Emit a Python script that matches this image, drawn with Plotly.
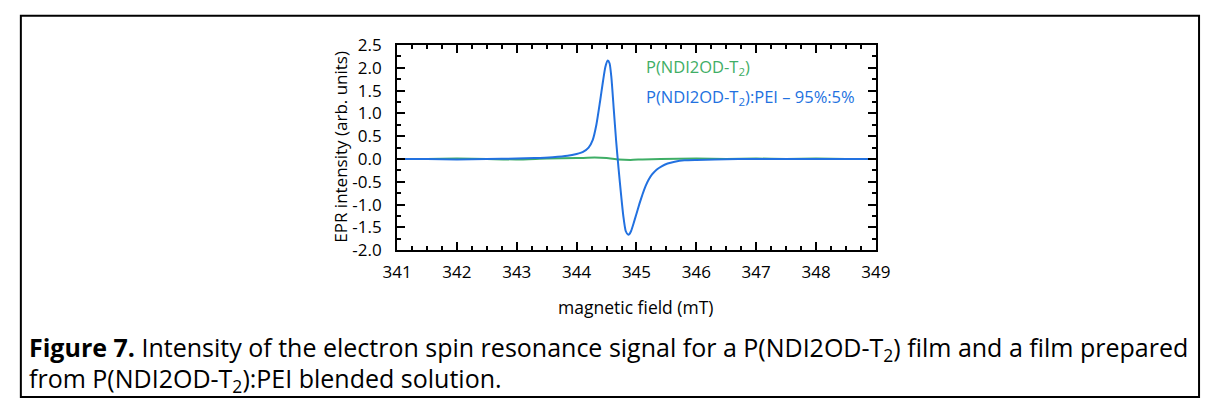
import plotly.graph_objects as go

# ---- data ----
field_blend = [341.0, 341.5, 342.0, 342.5, 343.0, 343.3, 343.6, 343.85, 344.0, 344.1,
               344.2, 344.27, 344.33, 344.39, 344.44, 344.48, 344.52, 344.55, 344.58, 344.62,
               344.66, 344.70, 344.74, 344.78, 344.82, 344.86, 344.88, 344.91, 344.95, 345.0,
               345.05, 345.1, 345.15, 345.2, 345.26, 345.34, 345.42, 345.52, 345.64, 345.8,
               346.0, 346.3, 346.7, 347.0, 347.5, 348.0, 348.5, 349.0]
intensity_blend = [0.0, 0.0, -0.01, 0.0, 0.01, 0.02, 0.04, 0.07, 0.11, 0.15,
                   0.25, 0.42, 0.75, 1.25, 1.70, 2.02, 2.16, 2.10, 1.80, 1.10,
                   0.40, -0.20, -0.75, -1.25, -1.58, -1.66, -1.65, -1.58, -1.42, -1.20,
                   -0.98, -0.78, -0.60, -0.46, -0.34, -0.23, -0.16, -0.10, -0.06, -0.03,
                   -0.02, -0.01, 0.0, 0.0, 0.0, 0.0, 0.0, 0.0]

field_pristine = [341.0, 341.5, 342.0, 342.5, 343.0, 343.5, 344.0, 344.3, 344.5, 344.7,
                  344.9, 345.1, 345.4, 346.0, 346.5, 347.0, 347.5, 348.0, 348.5, 349.0]
intensity_pristine = [0.0, 0.0, 0.01, 0.0, -0.01, 0.01, 0.02, 0.03, 0.02, -0.01,
                      -0.02, -0.01, 0.0, 0.01, 0.0, 0.01, 0.0, 0.01, 0.0, 0.0]

x_ticks = [341, 342, 343, 344, 345, 346, 347, 348, 349]
y_ticks = [-2.0, -1.5, -1.0, -0.5, 0.0, 0.5, 1.0, 1.5, 2.0, 2.5]

GREEN = "#3fae66"
BLUE = "#2271e0"
FONT = "Open Sans"

W, H = 1216, 410
px = lambda x: x / W
py = lambda y: 1 - y / H

fig = go.Figure()
fig.add_trace(go.Scatter(x=field_pristine, y=intensity_pristine, mode="lines",
                         line=dict(color=GREEN, width=2, shape="spline", smoothing=0.6),
                         showlegend=False))
fig.add_trace(go.Scatter(x=field_blend, y=intensity_blend, mode="lines",
                         line=dict(color=BLUE, width=2, shape="spline", smoothing=0.6),
                         showlegend=False))

axis_common = dict(showline=True, linecolor="black", linewidth=2, mirror="ticks",
                   ticks="inside", ticklen=8, tickwidth=2, tickcolor="black",
                   showgrid=False, zeroline=False,
                   tickfont=dict(family=FONT, size=17, color="black"))

fig.update_xaxes(range=[341, 349], tickvals=x_ticks, ticktext=[str(v) for v in x_ticks],
                 domain=[px(391.7), px(882.7)], ticklabelstandoff=5,
                 minor=dict(ticks="inside", ticklen=4, tickwidth=2, dtick=0.25, tickcolor="black"),
                 **axis_common)
fig.update_yaxes(range=[-2.0, 2.5], tickvals=y_ticks, ticktext=[f"{v:.1f}" for v in y_ticks],
                 domain=[py(252.3), py(35)], ticklabelstandoff=10,
                 minor=dict(ticks="inside", ticklen=4, tickwidth=2, dtick=0.25, tickcolor="black"),
                 **axis_common)

ann = []
ann.append(dict(x=px(637), y=py(313), xref="paper", yref="paper", text="magnetic field (mT)",
                showarrow=False, font=dict(family=FONT, size=17.5, color="black"),
                xanchor="center", yanchor="middle"))
ann.append(dict(x=px(334), y=py(143), xref="paper", yref="paper", text="EPR intensity (arb. units)",
                showarrow=False, textangle=-90, font=dict(family=FONT, size=17, color="black"),
                xanchor="center", yanchor="middle"))
ann.append(dict(x=px(645), y=py(58), xref="paper", yref="paper", text="P(NDI2OD-T<sub>2</sub>)",
                showarrow=False, font=dict(family=FONT, size=16.5, color=GREEN),
                xanchor="left", yanchor="middle"))
ann.append(dict(x=px(645), y=py(90), xref="paper", yref="paper",
                text="P(NDI2OD-T<sub>2</sub>):PEI \u2013 95%:5%",
                showarrow=False, font=dict(family=FONT, size=16.5, color=BLUE),
                xanchor="left", yanchor="middle"))
ann.append(dict(x=px(12), y=py(357), xref="paper", yref="paper",
                text="<b>Figure 7.</b> Intensity of the electron spin resonance signal for a P(NDI2OD-T<sub>2</sub>) film and a film prepared",
                showarrow=False, font=dict(family=FONT, size=25, color="black"),
                xanchor="left", yanchor="middle"))
ann.append(dict(x=px(12), y=py(389), xref="paper", yref="paper",
                text="from P(NDI2OD-T<sub>2</sub>):PEI blended solution.",
                showarrow=False, font=dict(family=FONT, size=25, color="black"),
                xanchor="left", yanchor="middle"))

fig.update_layout(
    width=W, height=H, margin=dict(l=0, r=0, t=0, b=0),
    paper_bgcolor="white", plot_bgcolor="white",
    annotations=ann,
    shapes=[dict(type="rect", xref="paper", yref="paper",
                 x0=px(6), x1=px(1214), y0=py(408), y1=py(4),
                 line=dict(color="black", width=2))],
)

fig.write_html("out.html")
